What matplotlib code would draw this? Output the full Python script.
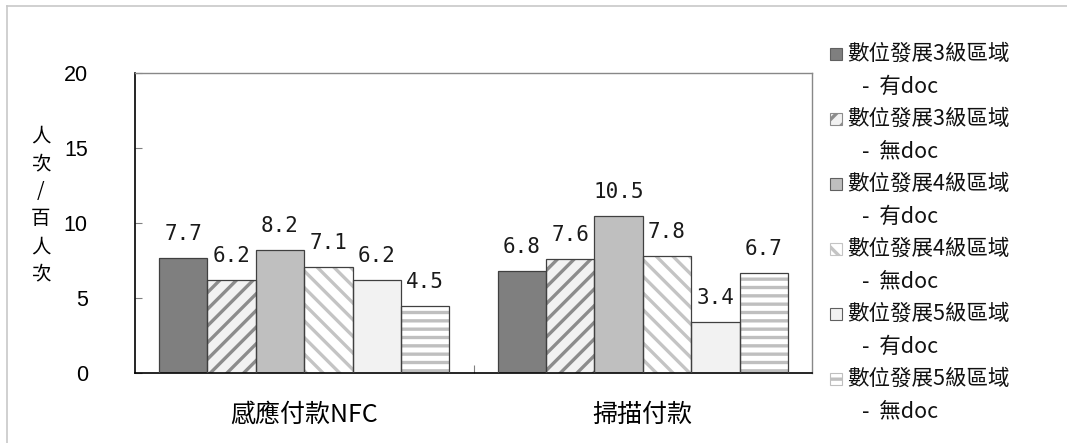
import matplotlib
matplotlib.use("Agg")
import matplotlib.pyplot as plt
import matplotlib.patches as mpatches
from matplotlib.lines import Line2D
import numpy as np

categories = ["感應付款NFC", "掃描付款"]
series_main = ["數位發展3級區域", "數位發展3級區域", "數位發展4級區域",
               "數位發展4級區域", "數位發展5級區域", "數位發展5級區域"]
series_sub = ["-  有doc", "-  無doc", "-  有doc", "-  無doc", "-  有doc", "-  無doc"]
lvl3_doc = [7.7, 6.8]
lvl3_nodoc = [6.2, 7.6]
lvl4_doc = [8.2, 10.5]
lvl4_nodoc = [7.1, 7.8]
lvl5_doc = [6.2, 3.4]
lvl5_nodoc = [4.5, 6.7]
series_values = [lvl3_doc, lvl3_nodoc, lvl4_doc, lvl4_nodoc, lvl5_doc, lvl5_nodoc]
y_ticks = [0, 5, 10, 15, 20]
y_label = "人\n次\n/\n百\n人\n次"

# styles: (face, hatch colour, hatch)
styles = [
    ("#7f7f7f", "#7f7f7f", None),
    ("#f2f2f2", "#8c8c8c", "//"),
    ("#bfbfbf", "#bfbfbf", None),
    ("#ffffff", "#c4c4c4", "\\\\"),
    ("#f2f2f2", "#f2f2f2", None),
    ("#ffffff", "#bfbfbf", "--"),
]

plt.rcParams["font.family"] = ["Noto Sans CJK TC", "DejaVu Sans"]
plt.rcParams["hatch.linewidth"] = 2.4

W, H = 1067, 443
fig = plt.figure(figsize=(W / 100, H / 100), dpi=100)
ax = fig.add_axes([135 / W, 1 - 373 / H, (812 - 135) / W, (373 - 73) / H])

x = np.arange(len(categories))
n = len(series_values)
w = 0.143
for i, (vals, (face, hc, hatch)) in enumerate(zip(series_values, styles)):
    pos = x + (i - (n - 1) / 2) * w
    ax.bar(pos, vals, w, color=face, edgecolor=hc, hatch=hatch, linewidth=0, zorder=2)
    ax.bar(pos, vals, w, fill=False, edgecolor="#404040", linewidth=0.9, zorder=3)
    for px, v in zip(pos, vals):
        ax.annotate(f"{v:.1f}", (px, v), xytext=(0, 17), textcoords="offset points",
                    ha="center", va="center", fontsize=15, family="DejaVu Sans Mono",
                    color="#1a1a1a")

ax.set_xlim(-0.5, len(categories) - 0.5)
ax.set_ylim(0, 20)
ax.set_yticks(y_ticks)
ax.set_yticklabels([str(t) for t in y_ticks], family="Liberation Sans", fontsize=15.5)
ax.tick_params(axis="y", direction="in", length=5, color="#808080", pad=34, width=0.8)
ax.set_xticks(x)
ax.set_xticklabels(categories, fontsize=18)
ax.tick_params(axis="x", length=0, pad=21)
ax.set_xticks([0.5], minor=True)
ax.tick_params(axis="x", which="minor", direction="in", length=6, color="#808080", width=0.8)

for side in ["top", "right"]:
    ax.spines[side].set_color("#888888")
    ax.spines[side].set_linewidth(1.0)
for side in ["left", "bottom"]:
    ax.spines[side].set_color("#000000")
    ax.spines[side].set_linewidth(1.2)

fig.text(41 / W, 1 - 205 / H, y_label, ha="center", va="center", fontsize=14,
         linespacing=1.42)

# legend drawn manually: marker beside first line, label wraps onto second line
y0, step = 54, 65
for i, ((face, hc, hatch), main, sub) in enumerate(zip(styles, series_main, series_sub)):
    yc = y0 + i * step
    size = 12
    fig.add_artist(mpatches.Rectangle((830 / W, 1 - (yc + size / 2) / H), size / W, size / H,
                                      facecolor=face, edgecolor="#606060" if hatch is None else hc,
                                      hatch=hatch, linewidth=0.8, transform=fig.transFigure))
    fig.text(847 / W, 1 - yc / H, main, ha="left", va="center", fontsize=15.5, color="#111111")
    fig.text(862 / W, 1 - (yc + step / 2) / H, sub, ha="left", va="center", fontsize=15.5,
             color="#111111")

# outer chart border (left & top)
fig.add_artist(Line2D([7 / W, 7 / W], [0, 1 - 6 / H], color="#c8c8c8", lw=1.2))
fig.add_artist(Line2D([7 / W, 1], [1 - 6 / H, 1 - 6 / H], color="#c8c8c8", lw=1.2))

fig.savefig("out.png", dpi=100)
